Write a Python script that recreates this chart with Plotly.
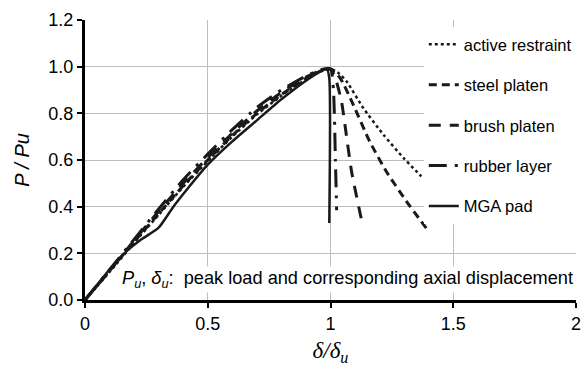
import plotly.graph_objects as go

# ---- data ----
active_x = [0, 0.1, 0.2, 0.3, 0.4, 0.5, 0.6, 0.7, 0.8, 0.9, 0.96, 1.0, 1.03, 1.066, 1.134, 1.216, 1.298, 1.37]
active_y = [0, 0.12, 0.245, 0.365, 0.485, 0.595, 0.70, 0.795, 0.875, 0.945, 0.98, 0.99, 0.975, 0.936, 0.822, 0.708, 0.608, 0.53]

steel_x = [0, 0.1, 0.2, 0.3, 0.4, 0.5, 0.6, 0.7, 0.8, 0.9, 0.96, 1.0, 1.04, 1.093, 1.16, 1.228, 1.31, 1.39]
steel_y = [0, 0.125, 0.25, 0.37, 0.49, 0.60, 0.705, 0.80, 0.88, 0.95, 0.982, 0.99, 0.95, 0.836, 0.679, 0.55, 0.422, 0.308]

brush_x = [0, 0.1, 0.2, 0.3, 0.4, 0.5, 0.6, 0.7, 0.8, 0.9, 0.96, 1.0, 1.02, 1.045, 1.059, 1.086, 1.127]
brush_y = [0, 0.125, 0.255, 0.38, 0.50, 0.61, 0.715, 0.81, 0.89, 0.955, 0.984, 0.99, 0.95, 0.85, 0.75, 0.55, 0.34]

rubber_x = [0, 0.1, 0.2, 0.3, 0.4, 0.5, 0.6, 0.7, 0.8, 0.9, 0.96, 1.0, 1.012, 1.02, 1.025]
rubber_y = [0, 0.13, 0.26, 0.39, 0.515, 0.625, 0.73, 0.825, 0.90, 0.96, 0.987, 0.99, 0.9, 0.6, 0.385]

mga_x = [0, 0.1, 0.16, 0.23, 0.3, 0.36, 0.42, 0.5, 0.6, 0.7, 0.8, 0.9, 0.96, 0.985, 0.995, 0.995]
mga_y = [0, 0.13, 0.2, 0.26, 0.31, 0.40, 0.48, 0.58, 0.68, 0.77, 0.86, 0.94, 0.98, 0.99, 0.95, 0.33]

x_ticks = [0, 0.5, 1, 1.5, 2]
x_tick_text = ["0", "0.5", "1", "1.5", "2"]
y_ticks = [0.0, 0.2, 0.4, 0.6, 0.8, 1.0, 1.2]

series = [
    ("active restraint", active_x, active_y, "dot", 2.5),
    ("steel platen", steel_x, steel_y, "8px,5px", 3),
    ("brush platen", brush_x, brush_y, "12px,9px", 3),
    ("rubber layer", rubber_x, rubber_y, "18px,8px,3px,8px", 3),
    ("MGA pad", mga_x, mga_y, "solid", 2.5),
]

fig = go.Figure()
for i, (name, xs, ys, dash, w) in enumerate(series):
    fig.add_trace(go.Scatter(
        x=xs, y=ys, mode="lines", name=name,
        legendgroup=f"g{i}",
        line=dict(color="#1a1a1a", width=w, dash=dash, shape="spline", smoothing=0.6),
    ))

font = "Liberation Sans, Arial, sans-serif"

fig.update_layout(
    width=582, height=367,
    margin=dict(l=85, r=6, t=20, b=67, autoexpand=False),
    paper_bgcolor="white", plot_bgcolor="white",
    font=dict(family=font, size=16, color="black"),
    showlegend=True,
    legend=dict(
        x=0.69, y=0.975, xanchor="left", yanchor="top",
        bgcolor="white", borderwidth=0,
        font=dict(family=font, size=16.5, color="black"),
        tracegroupgap=16, itemwidth=30,
    ),
    xaxis=dict(
        range=[0, 2], tickvals=x_ticks, ticktext=x_tick_text, automargin=False,
        showgrid=True, gridcolor="#bdbdbd", gridwidth=1,
        zeroline=False, showline=True, linecolor="black", linewidth=3,
        ticks="outside", ticklen=5, tickwidth=2, tickcolor="black",
        tickfont=dict(family=font, size=18),
        title=dict(text="<i>δ/δ<sub>u</sub></i>",
                   font=dict(family="Liberation Serif, Times New Roman, serif", size=23),
                   standoff=10),
    ),
    yaxis=dict(
        range=[0, 1.2], tickvals=y_ticks, tickformat=".1f", automargin=False,
        showgrid=True, gridcolor="#bdbdbd", gridwidth=1,
        zeroline=False, showline=True, linecolor="black", linewidth=3,
        ticks="outside", ticklen=5, tickwidth=2, tickcolor="black",
        tickfont=dict(family=font, size=18),
        title=dict(text="<i>P / Pu</i>", font=dict(family=font, size=20), standoff=14),
    ),
    annotations=[dict(
        xref="paper", yref="paper", x=0.071, y=0.072, xanchor="left", yanchor="middle",
        text="<i>P<sub>u</sub></i>, <i>δ<sub>u</sub></i>:  peak load and corresponding axial displacement",
        showarrow=False, bgcolor="white", font=dict(family=font, size=18.2, color="black"),
    )],
)

fig.write_html("out.html")
